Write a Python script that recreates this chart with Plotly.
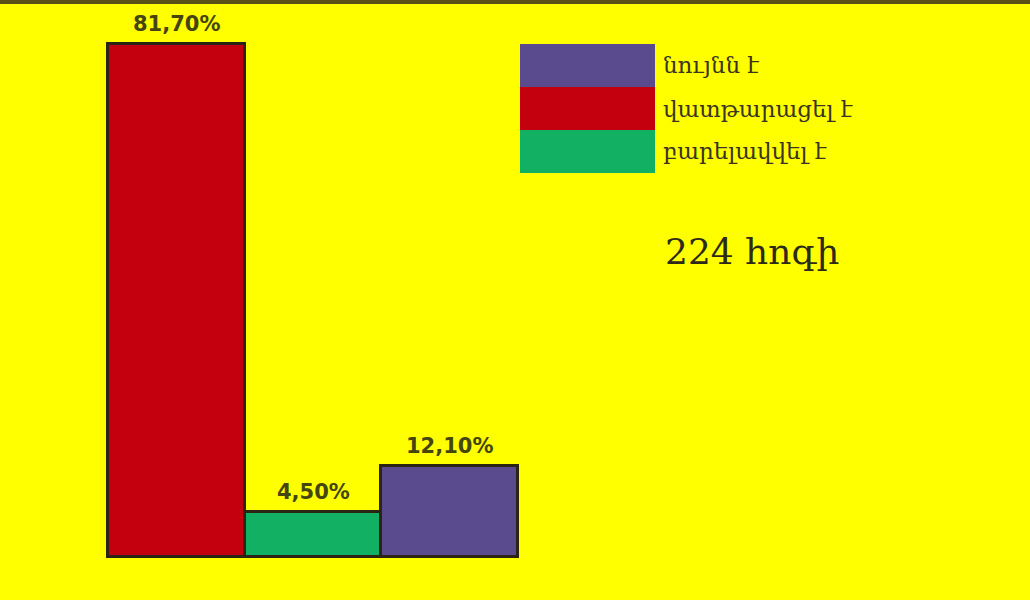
import plotly.graph_objects as go

categories = ["վատթարացել է", "բարելավվել է", "նույնն է"]
values = [81.7, 4.5, 12.1]
labels = ["81,70%", "4,50%", "12,10%"]
colors = ["#C4000E", "#12B062", "#5A4B8E"]
legend_order = ["նույնն է", "վատթարացել է", "բարելավվել է"]
legend_colors = ["#5A4B8E", "#C4000E", "#12B062"]
note = "224 հոգի"

W, H = 1030, 600
base = -3.0
xpos = [0, 1, 2]

fig = go.Figure()
fig.add_trace(go.Bar(
    x=xpos, y=[v - base for v in values], base=base,
    marker=dict(color=colors, line=dict(color="#2B2414", width=3)),
    width=1.0,
    hoverinfo="skip", showlegend=False,
))

for x, v, t in zip(xpos, values, labels):
    fig.add_annotation(x=x, y=v, text=f"<b>{t}</b>", showarrow=False,
                       yanchor="bottom", yshift=6,
                       font=dict(family="DejaVu Sans", size=21, color="#45450F"))

# legend drawn as colored boxes with text
box_top = 44
box_h = 43
for i, (name, col) in enumerate(zip(legend_order, legend_colors)):
    y0 = box_top + i * box_h
    y1 = y0 + box_h
    fig.add_shape(type="rect", xref="paper", yref="paper",
                  x0=520 / W, x1=655 / W, y0=1 - y1 / H, y1=1 - y0 / H,
                  fillcolor=col, line=dict(width=0), layer="above")
    fig.add_annotation(xref="paper", yref="paper", x=661 / W, y=1 - (y0 + box_h / 2) / H,
                       text=name, showarrow=False, xanchor="left", yanchor="middle",
                       font=dict(family="DejaVu Serif", size=23, color="#3A3520"))

fig.add_annotation(xref="paper", yref="paper", x=663 / W, y=1 - 252 / H,
                   text=note, showarrow=False, xanchor="left", yanchor="middle",
                   font=dict(family="DejaVu Serif", size=36, color="#2E2A1A"))

# top border line
fig.add_shape(type="rect", xref="paper", yref="paper", x0=0, x1=1, y0=1 - 4 / H, y1=1,
              fillcolor="#5A5214", line=dict(width=0))

px_per_x = 136.7
x_left = 0 - 0.5 - 108 / px_per_x
x_right = x_left + W / px_per_x
k = (557 - 44) / (81.7 - base)
y_top = 81.7 + 44 / k
y_bot = base - (H - 557) / k

fig.update_layout(
    width=W, height=H,
    margin=dict(l=0, r=0, t=0, b=0),
    paper_bgcolor="#FFFF00", plot_bgcolor="#FFFF00",
    bargap=0,
    xaxis=dict(range=[x_left, x_right], visible=False, fixedrange=True),
    yaxis=dict(range=[y_bot, y_top], visible=False, fixedrange=True),
)

fig.write_html("out.html", config={"displayModeBar": False},
               post_script="document.body.style.margin='0';document.body.style.padding='0';")
